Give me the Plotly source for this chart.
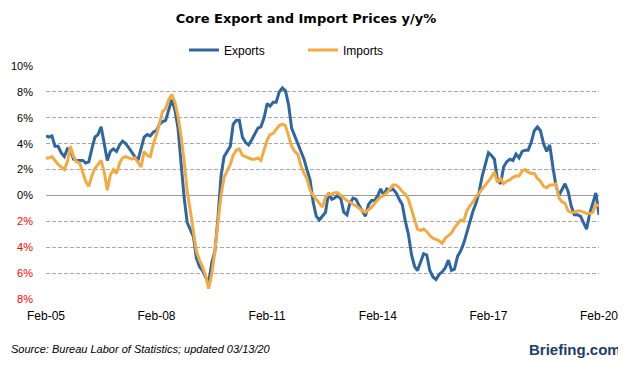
import pandas as pd
import plotly.graph_objects as go

start_month = "2005-02-01"

exports = [
    4.6, 4.5, 4.6, 3.8, 3.8, 3.3, 3.0, 3.6, 3.5, 2.8, 2.7, 2.7,
    2.7, 2.5, 2.6, 3.6, 4.5, 4.7, 5.3, 4.0, 2.7, 3.4, 3.6, 3.4,
    3.9, 4.2, 4.0, 3.7, 3.3, 3.0, 2.7, 3.6, 4.5, 4.7, 4.6, 4.9,
    5.0, 5.5, 5.7, 5.8, 6.6, 7.4, 6.6, 5.2, 2.5, -0.2, -2.1, -2.7,
    -3.2, -4.8, -5.5, -5.8, -6.3, -6.8, -5.2, -4.3, -1.8, 1.5, 3.0, 3.4,
    3.8, 5.5, 5.8, 5.8, 4.5, 4.1, 3.9, 4.3, 4.8, 5.2, 5.3, 6.0,
    7.1, 6.9, 7.2, 7.2, 8.0, 8.3, 8.1, 7.0, 5.2, 4.6, 4.1, 3.4,
    2.8, 2.0, 1.2, -0.5, -1.6, -1.9, -1.6, -1.3, 0.2, -0.3, -0.2, 0.0,
    -0.3, -1.3, -1.5, -0.6, -0.2, -0.3, -0.8, -1.2, -1.6, -0.7, -0.4, -0.4,
    0.0, 0.5, 0.0, 0.5, 0.4, 0.5, 0.2, -0.3, -0.7, -2.0, -3.0, -4.6,
    -5.5, -5.8, -5.2, -4.5, -4.6, -5.8, -6.3, -6.5, -6.1, -5.9, -5.6, -5.0,
    -5.8, -5.7, -4.7, -4.3, -3.7, -2.9, -2.0, -1.2, -0.6, 0.3, 1.5, 2.5,
    3.3, 3.1, 2.8, 1.2, 0.9, 2.2, 2.6, 2.8, 2.7, 3.2, 2.9, 3.4,
    3.5, 3.5, 4.1, 5.0, 5.3, 5.0, 4.0, 3.4, 3.9, 2.2, 0.8, 0.0,
    0.5, 0.9, 0.3, -0.8, -1.5, -1.5, -1.6, -2.1, -2.6, -1.4, -0.6, 0.2,
    -1.5,
]

imports = [
    2.9, 2.9, 3.0, 2.7, 2.4, 2.2, 2.0, 2.6, 3.8, 3.0, 2.6, 2.5,
    1.8, 1.1, 0.7, 1.5, 2.1, 2.4, 2.7, 1.8, 0.4, 1.6, 2.0, 1.7,
    2.5, 2.9, 3.0, 2.9, 2.8, 2.9, 2.5, 2.2, 3.4, 3.1, 3.0, 4.0,
    4.7, 5.6, 6.5, 6.7, 7.4, 7.8, 7.2, 6.1, 4.6, 2.6, 0.3, -1.2,
    -2.7, -4.3, -5.0, -5.5, -6.2, -7.2, -6.1, -4.3, -2.1, 0.0, 1.4, 1.9,
    2.4, 3.1, 3.5, 3.6, 3.1, 3.0, 2.9, 2.8, 2.8, 2.9, 2.7, 3.5,
    4.3, 4.7, 4.8, 5.1, 5.4, 5.5, 5.4, 4.6, 3.8, 3.4, 3.2, 2.3,
    1.7, 1.3, 0.4, 0.0, -0.3, -0.6, -0.9, -0.1, 0.1, 0.1, 0.2, 0.2,
    0.0, -0.2, -0.4, -0.5, -0.7, -0.8, -1.0, -1.2, -1.3, -1.1, -0.9, -0.6,
    -0.3, -0.1, 0.0, 0.2, 0.5, 0.8, 0.8, 0.6, 0.3, 0.1, -0.3, -1.1,
    -2.0, -2.6, -2.7, -2.6, -2.8, -3.1, -3.3, -3.4, -3.5, -3.7, -3.3, -3.1,
    -2.9, -2.5, -2.2, -1.9, -2.0, -1.2, -0.8, -0.5, -0.1, 0.2, 0.5, 0.8,
    1.1, 1.4, 1.8, 1.0, 1.3, 0.9, 1.1, 1.2, 1.4, 1.5, 1.5, 1.9,
    2.0, 1.8, 1.7, 1.7, 1.3, 1.1, 0.7, 0.6, 0.8, 0.8, 0.9, -0.2,
    -0.5, -0.6, -1.2, -1.3, -1.3, -1.2, -1.2, -1.3, -1.4, -1.4, -1.3, -0.7,
    -0.8,
]

tick_dates = ["2005-02-01", "2008-02-01", "2011-02-01",
              "2014-02-01", "2017-02-01", "2020-02-01"]
tick_labels = ["Feb-05", "Feb-08", "Feb-11", "Feb-14", "Feb-17", "Feb-20"]
y_ticks = [10, 8, 6, 4, 2, 0, -2, -4, -6, -8]

dates = pd.date_range(start_month, periods=len(exports), freq="MS")

y_text = [f"{v}%" if v >= 0 else f"<span style='color:#FF0000'>{abs(v)}%</span>"
          for v in y_ticks]

fig = go.Figure()
fig.add_trace(go.Scatter(x=dates, y=exports, name="Exports", mode="lines",
                         line=dict(color="#2E67A0", width=3)))
fig.add_trace(go.Scatter(x=dates, y=imports, name="Imports", mode="lines",
                         line=dict(color="#F2AA43", width=3)))

# the page body has an 8px margin, so the figure is placed at (8, 8)
OFF = 8
W, H = 626 - OFF, 367 - OFF
L, R, T, B = 46 - OFF, 27, 66 - OFF, 68
pw, ph = W - L - R, H - T - B

def px(x):
    return (x - OFF - L) / pw

def py(y):
    return (H - B - (y - OFF)) / ph

fig.update_layout(
    width=W, height=H,
    margin=dict(l=L, r=R, t=T, b=B, pad=0, autoexpand=False),
    paper_bgcolor="white", plot_bgcolor="white",
    font=dict(family="Liberation Sans, Arial, sans-serif", size=11, color="black"),
    title=dict(text="<b>Core Export and Import Prices y/y%</b>",
               font=dict(family="DejaVu Sans, Verdana, sans-serif", size=13, color="black"),
               x=(306 - OFF) / W, xanchor="center", xref="container",
               y=1 - (18 - OFF) / H, yanchor="middle", yref="container"),
    showlegend=True,
    legend=dict(orientation="h", xref="container", yref="container",
                x=(184 - OFF) / W, xanchor="left", y=1 - (50 - OFF) / H, yanchor="middle",
                font=dict(size=12, family="Liberation Sans, Arial, sans-serif"),
                entrywidth=74, bgcolor="rgba(0,0,0,0)", itemwidth=30,
                tracegroupgap=0),
    xaxis=dict(type="date", range=[dates[0], dates[-1]],
               tickvals=tick_dates, ticktext=tick_labels,
               showgrid=False, zeroline=False, showline=False,
               ticks="", tickfont=dict(size=12), ticklabelstandoff=8),
    yaxis=dict(range=[-8, 10], tickvals=y_ticks, ticktext=y_text,
               showgrid=True, gridcolor="#A8A8A8", griddash="4px,2px", gridwidth=1,
               zeroline=True, zerolinecolor="#9A9A9A", zerolinewidth=1,
               showline=False, ticks="", tickfont=dict(size=11),
               ticklabelstandoff=12),
    annotations=[
        dict(text="<i>Source: Bureau Labor of Statistics; updated 03/13/20</i>",
             xref="paper", yref="paper", x=px(9), y=py(349),
             xanchor="left", yanchor="middle", showarrow=False,
             font=dict(size=11, family="Liberation Sans, Arial, sans-serif", color="black")),
        dict(text="<b>Briefing.com</b>",
             xref="paper", yref="paper", x=px(623), y=py(349),
             xanchor="right", yanchor="middle", showarrow=False,
             font=dict(size=15, family="Liberation Sans, Arial, sans-serif", color="#1D3D6B")),
    ],
)

fig.write_html("out.html")
